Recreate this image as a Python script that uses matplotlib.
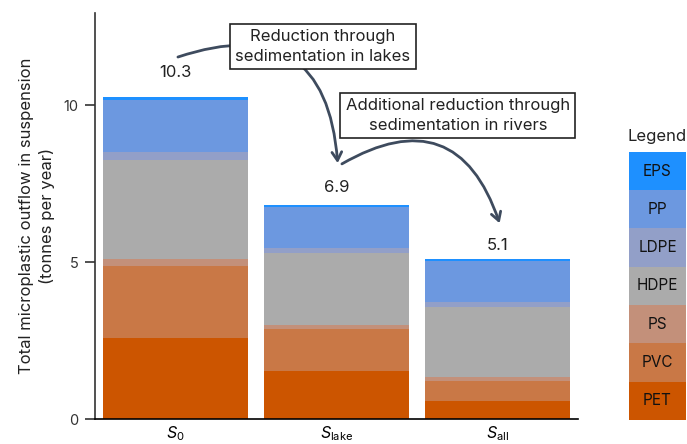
import numpy as np
import matplotlib
matplotlib.use("Agg")
import matplotlib.pyplot as plt
from matplotlib.patches import FancyArrowPatch, Rectangle

plt.rcParams['font.family'] = ['Inter', 'DejaVu Sans']
plt.rcParams['mathtext.fontset'] = 'custom'
plt.rcParams['mathtext.it'] = 'Inter:italic'
plt.rcParams['mathtext.rm'] = 'Inter'

# Dane (tony na rok)
scenarios = [r'$S_0$', r'$S_\mathrm{lake}$', r'$S_\mathrm{all}$']
polymers = ['PET', 'PVC', 'PS', 'HDPE', 'LDPE', 'PP', 'EPS']
pet = [2.59, 1.53, 0.57]
pvc = [2.29, 1.34, 0.64]
ps = [0.22, 0.12, 0.13]
hdpe = [3.16, 2.30, 2.23]
ldpe = [0.24, 0.16, 0.16]
pp = [1.66, 1.31, 1.31]
eps = [0.10, 0.07, 0.06]
totals_label = ['10.3', '6.9', '5.1']

colors = ['#CC5500', '#C97846', '#C3907A', '#ABABAB', '#929FC8', '#6C98E0', '#1E90FF']

layers = [pet, pvc, ps, hdpe, ldpe, pp, eps]
x = np.arange(len(scenarios))

fig = plt.figure(figsize=(6.87, 4.44), dpi=100)
ax = fig.add_axes([0.138, 0.0563, 0.703, 0.9144])

bottom = np.zeros(len(scenarios))
for vals, c in zip(layers, colors):
    ax.bar(x, vals, width=0.9, bottom=bottom, color=c, edgecolor='none')
    bottom += np.array(vals)
totals = bottom

ax.set_xlim(-0.5, 2.5)
ax.set_ylim(0, 12.93)
ax.set_yticks([0, 5, 10])
ax.set_xticks(x)
ax.set_xticklabels(scenarios, fontsize=11.5)
ax.tick_params(axis='x', length=0, pad=4)
ax.tick_params(axis='y', length=7, width=1.2, color='#333333', labelsize=10.5,
               labelcolor='#333333', pad=5)
ax.spines['top'].set_visible(False)
ax.spines['right'].set_visible(False)
ax.spines['left'].set_color('#333333')
ax.spines['left'].set_linewidth(1.2)
ax.spines['bottom'].set_linewidth(1.2)
ax.set_ylabel('Total microplastic outflow in suspension\n(tonnes per year)',
              fontsize=12, color='#222222', labelpad=6, linespacing=1.35)

# Etykiety sum
label_offsets = [0.78, 0.53, 0.44]
for xi, t, lab, off in zip(x, totals, totals_label, label_offsets):
    ax.text(xi, t + off, lab, ha='center', va='center', fontsize=12, color='#222222')

# Strzałki
arrow_color = '#3E4B5E'
a1 = FancyArrowPatch((0.0, 11.5), (1.01, totals[1] + 1.23),
                     connectionstyle='arc3,rad=-0.65', arrowstyle='->,head_length=6,head_width=3.5',
                     color=arrow_color, lw=2, zorder=3)
a2 = FancyArrowPatch((1.02, totals[1] + 1.25), (2.02, totals[2] + 1.05),
                     connectionstyle='arc3,rad=-0.62', arrowstyle='->,head_length=6,head_width=3.5',
                     color=arrow_color, lw=2, zorder=3)
ax.add_patch(a1)
ax.add_patch(a2)

box = dict(boxstyle='square,pad=0.32', fc='white', ec='#222222', lw=1.2)
ax.text(0.917, 11.86, 'Reduction through\nsedimentation in lakes', ha='center', va='center',
        fontsize=12, color='#222222', bbox=box, zorder=5, linespacing=1.4)
ax.text(1.755, 9.67, 'Additional reduction through\nsedimentation in rivers', ha='center',
        va='center', fontsize=12, color='#222222', bbox=box, zorder=5, linespacing=1.4)

# Legenda jako osobny panel
lax = fig.add_axes([0.9156, 0.054, 0.0829, 0.604])
lax.set_xlim(0, 1)
lax.set_ylim(0, len(polymers))
lax.axis('off')
for i, (name, c) in enumerate(zip(polymers, colors)):
    lax.add_patch(Rectangle((0, i), 1, 1, color=c, lw=0))
    lax.text(0.5, i + 0.5, name, ha='center', va='center', fontsize=11, color='#111111')
lax.text(0.5, len(polymers) + 0.4, 'Legend', ha='center', va='center', fontsize=12,
         color='#222222')

fig.savefig('out.png', dpi=100)
